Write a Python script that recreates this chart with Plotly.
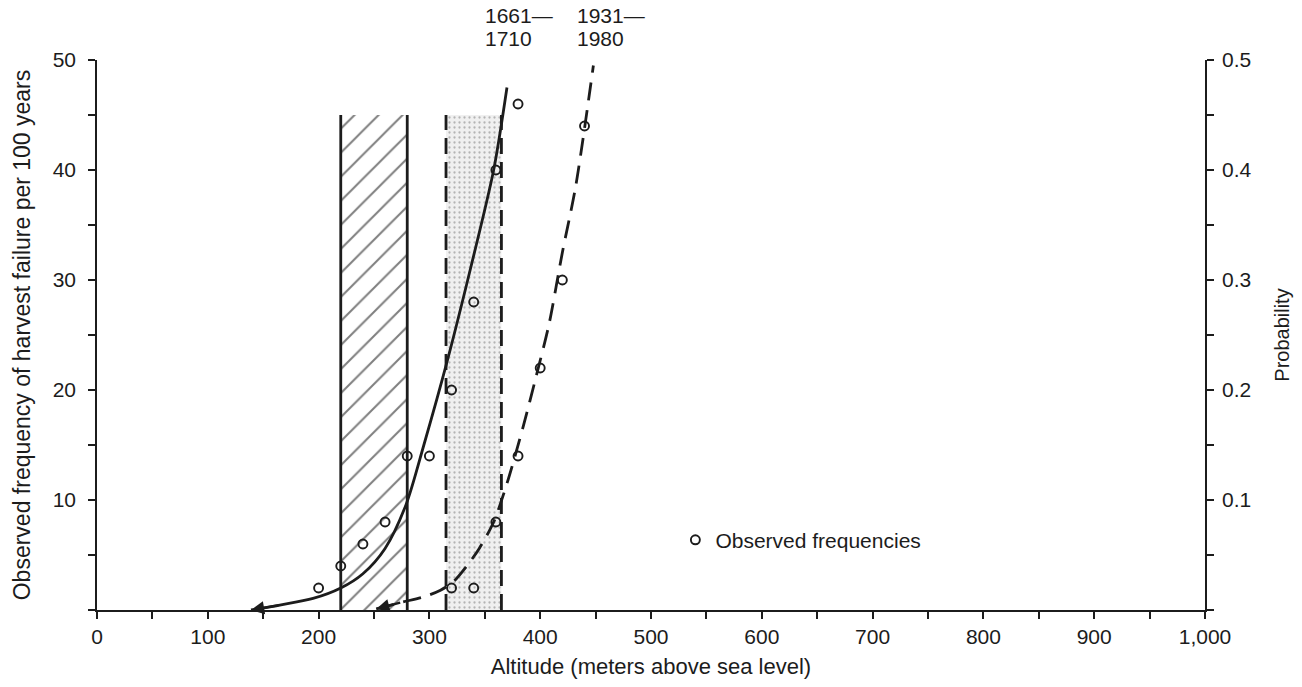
import plotly.graph_objects as go

# ---------------- data ----------------
alt_ticks = [0, 100, 200, 300, 400, 500, 600, 700, 800, 900, 1000]
alt_tick_labels = ["0", "100", "200", "300", "400", "500", "600", "700", "800", "900", "1,000"]
alt_minor = [50, 150, 250, 350, 450, 550, 650, 750, 850, 950]
freq_ticks = [10, 20, 30, 40, 50]
freq_minor = [0, 5, 15, 25, 35, 45]
prob_ticks = [0.1, 0.2, 0.3, 0.4, 0.5]
prob_tick_labels = ["0.1", "0.2", "0.3", "0.4", "0.5"]
prob_minor = [0, 0.05, 0.15, 0.25, 0.35, 0.45]

# fitted curve 1661-1710 (solid)
solid_alt = [139, 165, 195, 220, 240, 260, 279, 295, 316, 337, 358, 370]
solid_val = [0.0, 0.45, 1.05, 2.0, 3.3, 5.6, 9.6, 15.0, 22.6, 31.0, 40.0, 47.5]
# fitted curve 1931-1980 (dashed)
dashed_alt = [252, 275, 295, 310, 322, 333, 345, 358, 370, 385, 396, 408, 420, 432, 448]
dashed_val = [0.1, 0.7, 1.2, 1.8, 2.6, 3.9, 5.6, 8.0, 11.5, 16.8, 21.1, 26.0, 32.5, 38.5, 49.5]

# observed frequencies
obs_alt = [200, 220, 240, 260, 280, 300, 320, 320, 340, 340, 360, 360, 380, 380, 400, 420, 440]
obs_freq = [2, 4, 6, 8, 14, 14, 20, 2, 2, 28, 8, 40, 14, 46, 22, 30, 44]

# shaded bands (altitude limits) and their height
hatch_band = [220, 280]
stipple_band = [315, 365]
band_top = 45

period_labels = [("1661\u2014", "1710"), ("1931\u2014", "1980")]
period_label_alt = [348, 431]

INK = "#1c1c1c"
FONT = "Liberation Sans, Arial, sans-serif"

fig = go.Figure()

# hatched band
fig.add_trace(go.Bar(
    x=[(hatch_band[0] + hatch_band[1]) / 2], y=[band_top],
    width=[hatch_band[1] - hatch_band[0]],
    marker=dict(color="white", line=dict(width=0),
                pattern=dict(shape="/", size=17, solidity=0.12,
                             fgcolor="#000000", bgcolor="white")),
    showlegend=False, hoverinfo="skip"))
# stippled band
fig.add_trace(go.Bar(
    x=[(stipple_band[0] + stipple_band[1]) / 2], y=[band_top],
    width=[stipple_band[1] - stipple_band[0]],
    marker=dict(color="#efefef", line=dict(width=0),
                pattern=dict(shape=".", size=5, solidity=0.16,
                             fgcolor="#777777", bgcolor="#f0f0f0")),
    showlegend=False, hoverinfo="skip"))

for e in hatch_band:
    fig.add_trace(go.Scatter(x=[e, e], y=[0, band_top], mode="lines",
                             line=dict(color=INK, width=2.8),
                             showlegend=False, hoverinfo="skip"))
for e in stipple_band:
    fig.add_trace(go.Scatter(x=[e, e], y=[0, band_top], mode="lines",
                             line=dict(color=INK, width=2.8, dash="16px,8px"),
                             showlegend=False, hoverinfo="skip"))

# curves
fig.add_trace(go.Scatter(x=solid_alt, y=solid_val, mode="lines",
                         line=dict(color=INK, width=2.8, shape="spline", smoothing=0.8),
                         showlegend=False, hoverinfo="skip"))
fig.add_trace(go.Scatter(x=dashed_alt, y=dashed_val, mode="lines",
                         line=dict(color=INK, width=2.8, shape="spline", smoothing=0.8,
                                   dash="18px,10px"),
                         showlegend=False, hoverinfo="skip"))

# observed points
fig.add_trace(go.Scatter(x=obs_alt, y=obs_freq, mode="markers",
                         name="Observed frequencies",
                         marker=dict(symbol="circle-open", size=9, color=INK,
                                     line=dict(width=1.9, color=INK)),
                         showlegend=True))

# dummy trace so the probability axis is drawn
fig.add_trace(go.Scatter(x=[None], y=[None], yaxis="y2", showlegend=False,
                         hoverinfo="skip"))

annotations = []
# arrowheads at the low ends of both curves
for xs, ys in ((solid_alt, solid_val), (dashed_alt, dashed_val)):
    annotations.append(dict(x=xs[0], y=ys[0], ax=xs[1], ay=ys[1],
                            xref="x", yref="y", axref="x", ayref="y",
                            text="", showarrow=True, arrowhead=2, arrowsize=1.1,
                            arrowwidth=2.4, arrowcolor=INK))
# period labels above the plot
for (l1, l2), xa in zip(period_labels, period_label_alt):
    annotations.append(dict(x=xa, y=1.0815, xref="x", yref="paper", text=l1,
                            showarrow=False, xanchor="left", yanchor="middle",
                            font=dict(size=21, color=INK, family=FONT)))
    annotations.append(dict(x=xa, y=1.0399, xref="x", yref="paper", text=l2,
                            showarrow=False, xanchor="left", yanchor="middle",
                            font=dict(size=21, color=INK, family=FONT)))

axis_common = dict(showline=True, linecolor=INK, linewidth=1.6, showgrid=False,
                   zeroline=False, ticks="outside", ticklen=7, tickwidth=1.5,
                   tickcolor=INK, tickfont=dict(size=21, color=INK, family=FONT))

fig.update_layout(
    width=1302, height=687,
    margin=dict(l=97, r=94, t=60, b=75),
    paper_bgcolor="white", plot_bgcolor="white",
    font=dict(family=FONT, color=INK),
    barmode="overlay",
    xaxis=dict(range=[0, 1000], tickmode="array", tickvals=alt_ticks,
               ticktext=alt_tick_labels,
               minor=dict(tickvals=alt_minor, ticks="outside", ticklen=7,
                          tickwidth=1.5, tickcolor=INK),
               title=dict(text="Altitude (meters above sea level)",
                          font=dict(size=22, color=INK, family=FONT), standoff=12),
               **axis_common),
    yaxis=dict(range=[0, 50], tickmode="array", tickvals=freq_ticks,
               minor=dict(tickvals=freq_minor, ticks="outside", ticklen=7,
                          tickwidth=1.5, tickcolor=INK),
               ticklabelstandoff=8,
               title=dict(text="Observed frequency of harvest failure per 100 years",
                          font=dict(size=23, color=INK, family=FONT), standoff=16),
               **axis_common),
    yaxis2=dict(range=[0, 0.5], overlaying="y", side="right", tickmode="array",
                tickvals=prob_ticks, ticktext=prob_tick_labels,
                minor=dict(tickvals=prob_minor, ticks="outside", ticklen=7,
                           tickwidth=1.5, tickcolor=INK),
                ticklabelstandoff=4,
                title=dict(text="Probability",
                           font=dict(size=20, color=INK, family=FONT), standoff=24),
                **axis_common),
    legend=dict(x=0.522, y=0.127, xanchor="left", yanchor="middle",
                bgcolor="rgba(0,0,0,0)", borderwidth=0,
                font=dict(size=21, color=INK, family=FONT)),
    annotations=annotations,
)

fig.write_html("out.html")
